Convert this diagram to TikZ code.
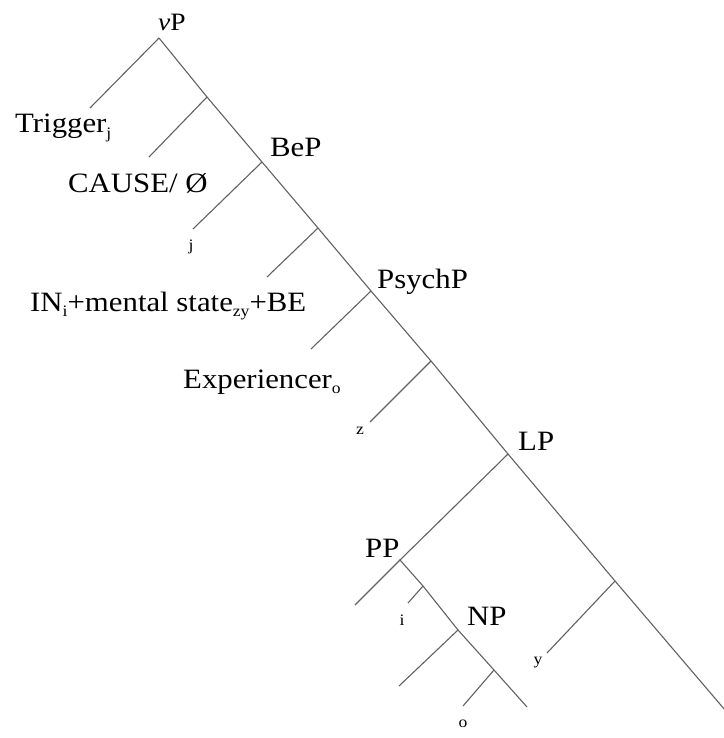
\documentclass[tikz,border=0pt]{standalone}
\usepackage{fontspec}
\setmainfont[FakeStretch=1.1]{Liberation Serif}
\usepackage{tikz}
\newcommand{\idx}[1]{\raisebox{-0.45ex}{\fontsize{16}{16}\selectfont #1}}

\begin{document}
\begin{tikzpicture}[x=1pt,y=-1pt,
    branch/.style={draw=black!62, line width=1.1pt},
    lab/.style={inner sep=0pt, anchor=base west, font=\fontsize{28}{30}\selectfont},
    trace/.style={inner sep=0pt, font=\fontsize{16}{16}\selectfont}]
  \useasboundingbox (0,0) rectangle (723,738);
  % Main spine: vP down to LP and beyond
  \coordinate (vP) at (159,38);
  \coordinate (a1) at (207,97);
  \coordinate (BeP) at (262,162);
  \coordinate (a2) at (318,228);
  \coordinate (PsychP) at (371,291);
  \coordinate (a3) at (431,361);
  \coordinate (LP) at (508,454);
  \coordinate (a4) at (615,581);
  \coordinate (Lend) at (725,710);
  % PP subtree
  \coordinate (PP) at (400,560);
  \coordinate (a5) at (423,586);
  \coordinate (NP) at (458,630);
  \coordinate (a6) at (494,670);
  \coordinate (NPend) at (527,707);
  % Leaves (left daughters)
  \coordinate (trig) at (90,108);
  \coordinate (cause) at (149,157);
  \coordinate (jtr) at (193,229);
  \coordinate (inm) at (267,277);
  \coordinate (exp) at (311,349);
  \coordinate (ztr) at (370,422);
  \coordinate (ytr) at (547,653);
  \coordinate (ppl) at (355,605);
  \coordinate (itr) at (408,603);
  \coordinate (npl) at (399,686);
  \coordinate (otr) at (463,706);
  % Branches
  \draw[branch] (vP) -- (a1) -- (BeP) -- (a2) -- (PsychP) -- (a3) -- (LP) -- (a4) -- (Lend);
  \draw[branch] (LP) -- (PP) -- (a5) -- (NP) -- (a6) -- (NPend);
  \draw[branch] (vP) -- (trig);
  \draw[branch] (a1) -- (cause);
  \draw[branch] (BeP) -- (jtr);
  \draw[branch] (a2) -- (inm);
  \draw[branch] (PsychP) -- (exp);
  \draw[branch] (a3) -- (ztr);
  \draw[branch] (a4) -- (ytr);
  \draw[branch] (PP) -- (ppl);
  \draw[branch] (a5) -- (itr);
  \draw[branch] (NP) -- (npl);
  \draw[branch] (a6) -- (otr);
  % Labels
  \node[lab, font=\fontsize{25}{27}\selectfont] (vPlab) at (158,31) {\textit{v}P};
  \node[lab] (triglab) at (15,133) {Trigger\idx{j}};
  \node[lab] (causelab) at (68,192) {CAUSE/ Ø};
  \node[lab] (BePlab) at (270,157) {BeP};
  \node[trace] (jlab) at (191,247) {j};
  \node[lab] (inmlab) at (30,311) {IN\idx{i}+mental state\idx{zy}+BE};
  \node[lab] (Psychlab) at (377,288) {PsychP};
  \node[lab] (explab) at (183,388) {Experiencer\idx{o}};
  \node[trace] (zlab) at (360,431) {z};
  \node[lab] (LPlab) at (518,450) {LP};
  \node[lab] (PPlab) at (365,557) {PP};
  \node[trace] (ilab) at (402,620) {i};
  \node[lab] (NPlab) at (467,625) {NP};
  \node[trace] (ylab) at (538,663) {y};
  \node[trace] (olab) at (463,724) {o};
  \node[trace] (jend) at (727,728) {j};
\end{tikzpicture}
\end{document}
